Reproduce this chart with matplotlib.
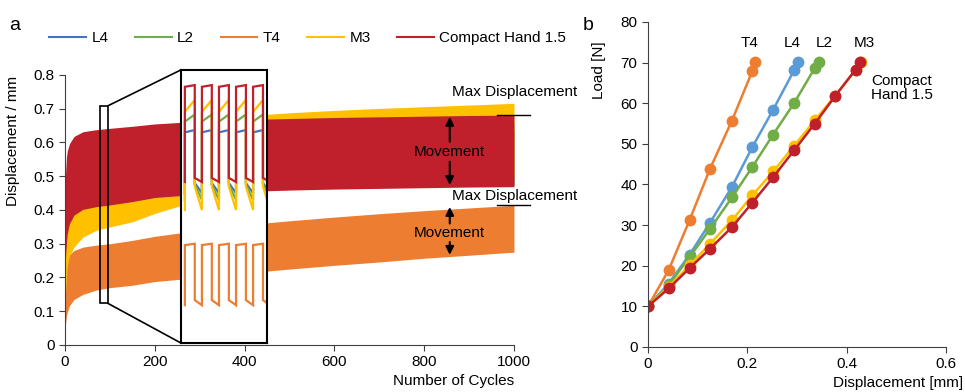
import numpy as np
import matplotlib
matplotlib.use('Agg')
import matplotlib.pyplot as plt
from matplotlib.patches import Rectangle
from matplotlib.ticker import FuncFormatter

plt.rcParams['font.family'] = ['Liberation Sans', 'DejaVu Sans']
plt.rcParams['font.size'] = 11

# ---- panel a: displacement envelopes over cycles (mm)
cycles = [0, 1, 3, 5, 10, 20, 40, 70, 100, 150, 200, 300, 400, 500, 600, 700, 800, 900, 1000]
l4_max = [0.38, 0.46, 0.51, 0.53, 0.55, 0.57, 0.585, 0.59, 0.595, 0.60, 0.605, 0.612, 0.617, 0.62, 0.623, 0.625, 0.627, 0.629, 0.63]
l4_min = [0.12, 0.28, 0.32, 0.35, 0.38, 0.40, 0.415, 0.42, 0.425, 0.435, 0.445, 0.455, 0.462, 0.466, 0.469, 0.471, 0.473, 0.475, 0.476]
l2_max = [0.40, 0.48, 0.53, 0.55, 0.57, 0.595, 0.61, 0.617, 0.622, 0.628, 0.634, 0.641, 0.646, 0.649, 0.652, 0.654, 0.656, 0.658, 0.66]
l2_min = [0.11, 0.27, 0.31, 0.34, 0.37, 0.395, 0.41, 0.418, 0.422, 0.432, 0.442, 0.452, 0.46, 0.464, 0.467, 0.469, 0.471, 0.473, 0.474]
t4_max = [0.05, 0.17, 0.23, 0.25, 0.268, 0.28, 0.29, 0.296, 0.30, 0.31, 0.322, 0.34, 0.356, 0.368, 0.379, 0.389, 0.398, 0.406, 0.414]
t4_min = [0.0, 0.06, 0.085, 0.097, 0.117, 0.135, 0.15, 0.163, 0.17, 0.177, 0.188, 0.20, 0.213, 0.225, 0.236, 0.246, 0.257, 0.266, 0.275]
m3_max = [0.35, 0.45, 0.50, 0.53, 0.56, 0.585, 0.60, 0.612, 0.62, 0.636, 0.65, 0.667, 0.679, 0.688, 0.695, 0.701, 0.706, 0.711, 0.716]
m3_min = [0.05, 0.15, 0.20, 0.235, 0.265, 0.29, 0.32, 0.34, 0.35, 0.365, 0.39, 0.43, 0.455, 0.47, 0.478, 0.484, 0.488, 0.491, 0.494]
ch_max = [0.42, 0.50, 0.555, 0.575, 0.597, 0.618, 0.632, 0.638, 0.642, 0.648, 0.655, 0.663, 0.668, 0.671, 0.674, 0.676, 0.678, 0.680, 0.681]
ch_min = [0.10, 0.26, 0.30, 0.33, 0.36, 0.385, 0.402, 0.41, 0.415, 0.425, 0.437, 0.447, 0.455, 0.459, 0.462, 0.464, 0.466, 0.468, 0.469]

# zoomed detail (a few cycles): [low start, high start, high end, low end]
inset_l4 = [0.45, 0.630, 0.637, 0.48]
inset_l2 = [0.43, 0.662, 0.683, 0.475]
inset_t4 = [0.118, 0.296, 0.300, 0.133]
inset_m3 = [0.40, 0.691, 0.726, 0.47]
inset_ch = [0.483, 0.765, 0.770, 0.495]

# ---- panel b: load vs displacement
t4_x = [0, 0.0415, 0.0836, 0.125, 0.1686, 0.210, 0.215]
t4_y = [10, 18.9, 31.2, 43.9, 55.6, 67.9, 70.1]
l4_x = [0, 0.0415, 0.0836, 0.125, 0.169, 0.210, 0.252, 0.294, 0.302]
l4_y = [10, 15.6, 22.7, 30.6, 39.4, 49.2, 58.4, 68.1, 70.1]
l2_x = [0, 0.0415, 0.0836, 0.125, 0.169, 0.210, 0.252, 0.294, 0.336, 0.344]
l2_y = [10, 15.2, 22.1, 29.1, 36.8, 44.3, 52.3, 60.0, 68.7, 70.1]
m3_x = [0, 0.0415, 0.0836, 0.125, 0.169, 0.210, 0.252, 0.294, 0.336, 0.377, 0.419, 0.429]
m3_y = [10, 14.8, 20.1, 25.4, 31.2, 37.3, 43.2, 49.5, 55.8, 61.9, 68.3, 70.1]
ch_x = [0, 0.0415, 0.0836, 0.125, 0.169, 0.210, 0.252, 0.294, 0.336, 0.377, 0.418, 0.426]
ch_y = [10, 14.4, 19.4, 24.2, 29.5, 35.5, 41.8, 48.4, 55.0, 61.8, 68.3, 70.1]

c_blue = '#4472C4'
c_blue_b = '#5B9BD5'
c_green = '#70AD47'
c_orange = '#ED7D31'
c_yellow = '#FFC000'
c_red = '#C0202B'

fig = plt.figure(figsize=(9.65, 3.92), dpi=100)
ax = fig.add_axes([0.0674, 0.1199, 0.4652, 0.6888])
bx = fig.add_axes([0.6715, 0.1148, 0.3088, 0.8291])

# ---------- panel a
bands = [(l4_min, l4_max, c_blue, 'L4'),
         (l2_min, l2_max, c_green, 'L2'),
         (t4_min, t4_max, c_orange, 'T4'),
         (m3_min, m3_max, c_yellow, 'M3'),
         (ch_min, ch_max, c_red, 'Compact Hand 1.5')]
handles = []
for lo, hi, col, lab in bands:
    ax.fill_between(cycles, lo, hi, color=col, lw=0)
    h, = ax.plot([], [], color=col, lw=1.5, label=lab)
    handles.append(h)

ax.set_xlim(0, 1000)
ax.set_ylim(0, 0.8)
ax.set_xticks(np.arange(0, 1001, 200))
ax.set_yticks(np.arange(0, 0.81, 0.1))
ax.yaxis.set_major_formatter(FuncFormatter(lambda v, p: f'{v:g}'))
for s in ['top', 'right']:
    ax.spines[s].set_visible(False)
for s in ['left', 'bottom']:
    ax.spines[s].set_color('#404040')
ax.tick_params(direction='out', length=4, color='#404040', labelsize=11)
ax.set_ylabel('Displacement / mm', fontsize=11)
ax.yaxis.set_label_coords(-0.1, 0.755)
ax.set_xlabel('Number of Cycles', fontsize=11, ha='right')
ax.xaxis.set_label_coords(1.0, -0.108)

# zoom marker and inset
ax.add_patch(Rectangle((78, 0.123), 18, 0.586, fill=False, ec='black', lw=1.2, zorder=5))
ax.plot([96, 258], [0.709, 0.815], color='black', lw=1.2, clip_on=False, zorder=5)
ax.plot([96, 258], [0.123, 0.006], color='black', lw=1.2, clip_on=False, zorder=5)

ins = ax.inset_axes([258, 0.006, 192, 0.809], transform=ax.transData)
ins.set_xlim(-0.235, 4.82)
ins.set_ylim(0.006, 0.815)
ins.set_xticks([])
ins.set_yticks([])
for s in ins.spines.values():
    s.set_linewidth(1.5)
    s.set_color('black')
wid = 0.58
for vals, col in [(inset_l4, c_blue), (inset_l2, c_green), (inset_t4, c_orange),
                  (inset_m3, c_yellow), (inset_ch, c_red)]:
    xs, ys = [], []
    for k in range(6):
        xs += [k, k, k + wid, k + wid]
        ys += [vals[0], vals[1], vals[2], vals[3]]
    ins.plot(xs, ys, color=col, lw=1.6, solid_joinstyle='miter')

# annotations
ax.text(862, 0.749, 'Max Displacement', ha='left', va='center', fontsize=11)
ax.text(862, 0.441, 'Max Displacement', ha='left', va='center', fontsize=11)
ax.plot([962, 1036], [0.681, 0.681], color='black', lw=1, clip_on=False)
ax.plot([962, 1036], [0.414, 0.414], color='black', lw=1, clip_on=False)
arr = dict(arrowstyle='-|>', color='black', lw=1.5, mutation_scale=12, shrinkA=0, shrinkB=0)
ax.text(857, 0.572, 'Movement', ha='center', va='center', fontsize=11)
ax.annotate('', xy=(857, 0.676), xytext=(857, 0.602), arrowprops=arr)
ax.annotate('', xy=(857, 0.474), xytext=(857, 0.543), arrowprops=arr)
ax.text(857, 0.332, 'Movement', ha='center', va='center', fontsize=11)
ax.annotate('', xy=(857, 0.409), xytext=(857, 0.360), arrowprops=arr)
ax.annotate('', xy=(857, 0.267), xytext=(857, 0.305), arrowprops=arr)

fig.legend(handles=handles, loc='center', bbox_to_anchor=(0.319, 0.903), ncol=5,
           frameon=False, handlelength=2.4, handletextpad=0.35, columnspacing=1.75,
           fontsize=11)

# ---------- panel b
series_b = [(t4_x, t4_y, c_orange), (l4_x, l4_y, c_blue_b), (l2_x, l2_y, c_green),
            (m3_x, m3_y, c_yellow), (ch_x, ch_y, c_red)]
for xs, ys, col in series_b:
    bx.plot(xs, ys, color=col, lw=1.8, marker='o', ms=7.5, mec=col, mfc=col)

bx.set_xlim(0, 0.6)
bx.set_ylim(0, 80)
bx.set_xticks([0, 0.2, 0.4, 0.6])
bx.set_yticks(np.arange(0, 81, 10))
bx.xaxis.set_major_formatter(FuncFormatter(lambda v, p: f'{v:g}'))
for s in ['top', 'right']:
    bx.spines[s].set_visible(False)
for s in ['left', 'bottom']:
    bx.spines[s].set_color('#404040')
bx.tick_params(direction='out', length=4, color='#404040', labelsize=11)
bx.set_ylabel('Load [N]', fontsize=11)
bx.yaxis.set_label_coords(-0.141, 0.852)
bx.set_xlabel('Displacement [mm]', fontsize=11, ha='right')
bx.xaxis.set_label_coords(1.057, -0.089)

bx.text(0.205, 74.8, 'T4', ha='center', va='center', fontsize=11)
bx.text(0.29, 74.8, 'L4', ha='center', va='center', fontsize=11)
bx.text(0.354, 74.8, 'L2', ha='center', va='center', fontsize=11)
bx.text(0.436, 74.8, 'M3', ha='center', va='center', fontsize=11)
bx.text(0.449, 63.8, 'Compact\nHand 1.5', ha='left', va='center', fontsize=11, linespacing=1.05)

fig.text(0.0155, 0.936, 'a', fontsize=14, ha='center', va='center')
fig.text(0.609, 0.936, 'b', fontsize=14, ha='center', va='center')

fig.savefig('out.png', dpi=100)
